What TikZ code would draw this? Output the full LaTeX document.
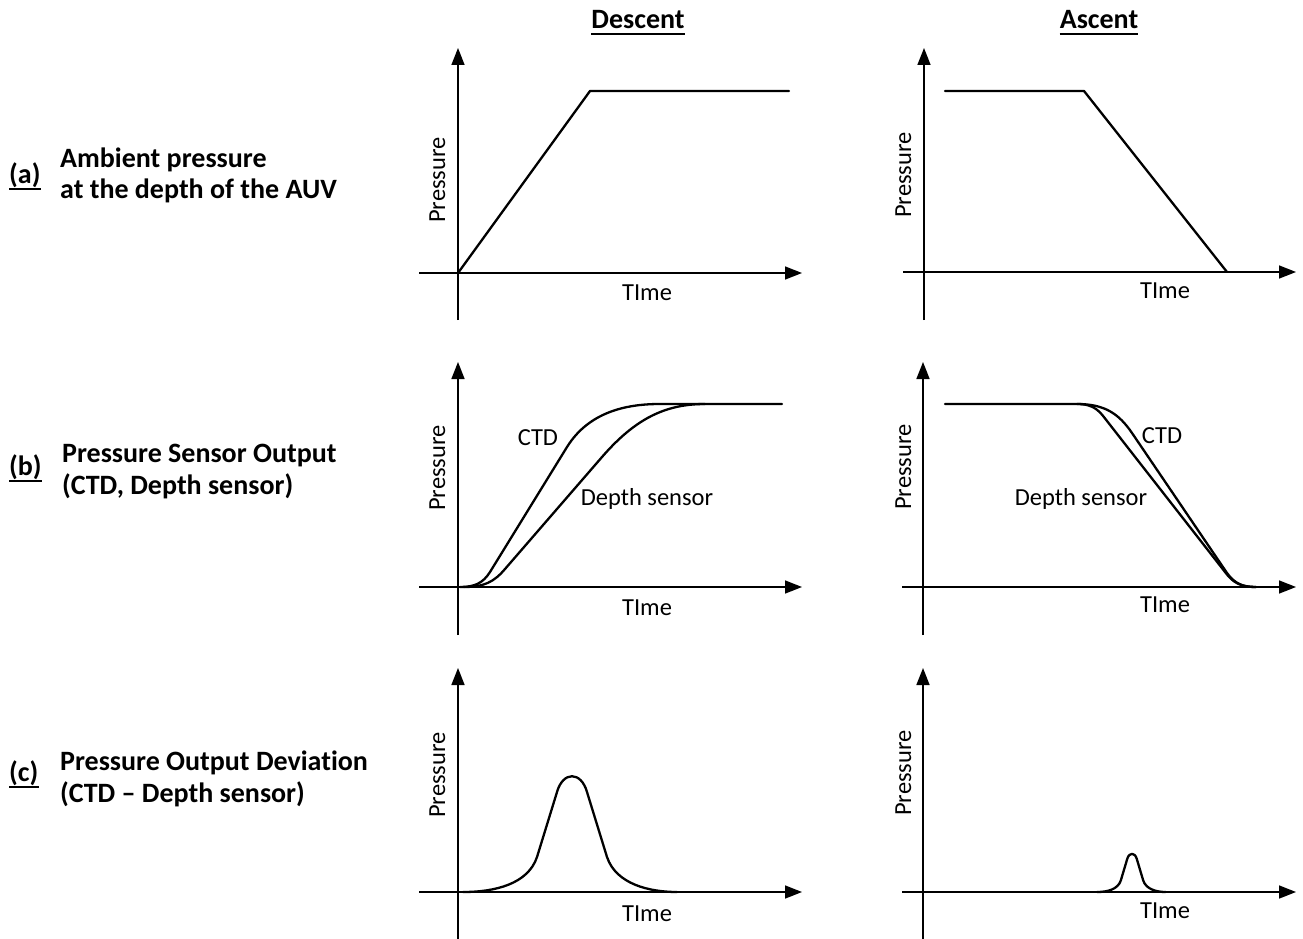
\documentclass[tikz,border=0pt]{standalone}
\usepackage{fontspec}
\setmainfont{Carlito}[Ligatures={TeX,NoCommon}]
\usetikzlibrary{arrows.meta}
\begin{document}
\begin{tikzpicture}[x=1pt,y=-1pt,
  axis/.style={line width=1.6pt,-{Triangle[length=17pt,width=13pt]}},
  curve/.style={line width=2.3pt,line join=round,line cap=round},
  lbl/.style={font=\fontsize{24.5}{29}\selectfont,inner sep=0pt,anchor=base},
  ylbl/.style={lbl,rotate=90},
  blbl/.style={font=\bfseries\fontsize{28}{33}\selectfont,inner sep=0pt,anchor=base west},
  ttl/.style={font=\bfseries\fontsize{28}{33}\selectfont,inner sep=0pt,anchor=base},
  uline/.style={line width=2.6pt},
  pics/bellcurve/.style={code={
    \draw[curve] (-109,0) .. controls (-77,0) and (-44,-8) .. (-35,-35) -- (-15,-100)
      .. controls (-9,-121) and (9,-121) .. (15,-100) -- (35,-35)
      .. controls (44,-8) and (77,0) .. (105,0);}}
]
\useasboundingbox (0,0) rectangle (1303,939);

% ---------- titles ----------
\node[ttl] (tdesc) at (638,29) {Descent};
\draw[uline] ([yshift=-5pt]tdesc.base west) -- ([yshift=-5pt]tdesc.base east);
\node[ttl] (tasc) at (1099,29) {Ascent};
\draw[uline] ([yshift=-5pt]tasc.base west) -- ([yshift=-5pt]tasc.base east);

% ---------- row labels ----------
\node[blbl] (la) at (9,183) {(a)};
\draw[uline] ([yshift=-6pt]la.base west) -- ([yshift=-6pt]la.base east);
\node[blbl] (la1) at (60,167) {Ambient pressure};
\node[blbl] (la2) at (60,198) {at the depth of the AUV};

\node[blbl] (lb) at (9,475) {(b)};
\draw[uline] ([yshift=-6pt]lb.base west) -- ([yshift=-6pt]lb.base east);
\node[blbl] (lb1) at (62,462) {Pressure Sensor Output};
\node[blbl] (lb2) at (62,494) {(CTD, Depth sensor)};

\node[blbl] (lc) at (9,781) {(c)};
\draw[uline] ([yshift=-6pt]lc.base west) -- ([yshift=-6pt]lc.base east);
\node[blbl] (lc1) at (60,770) {Pressure Output Deviation};
\node[blbl] (lc2) at (60,802) {(CTD – Depth sensor)};

% ---------- (a) descent ----------
\coordinate (ady0) at (458,320); \coordinate (ady1) at (458,48);
\coordinate (adx0) at (419,273); \coordinate (adx1) at (802,273);
\draw[axis] (ady0) -- (ady1);
\draw[axis] (adx0) -- (adx1);
\node[ylbl] (adp) at (445,180) {Pressure};
\node[lbl] (adt) at (647,300) {TIme};
\draw[curve] (458,273) -- (590,91) -- (789,91);

% ---------- (a) ascent ----------
\coordinate (aay0) at (924,320); \coordinate (aay1) at (924,48);
\coordinate (aax0) at (903,272); \coordinate (aax1) at (1296,272);
\draw[axis] (aay0) -- (aay1);
\draw[axis] (aax0) -- (aax1);
\node[ylbl] (aap) at (911,175) {Pressure};
\node[lbl] (aat) at (1165,298) {TIme};
\draw[curve] (945,91) -- (1084,91) -- (1227,272);

% ---------- (b) descent ----------
\coordinate (bdy0) at (458,635); \coordinate (bdy1) at (458,362);
\coordinate (bdx0) at (419,587); \coordinate (bdx1) at (802,587);
\draw[axis] (bdy0) -- (bdy1);
\draw[axis] (bdx0) -- (bdx1);
\node[ylbl] (bdp) at (445,468) {Pressure};
\node[lbl] (bdt) at (647,615) {TIme};
\draw[curve] (460,587) .. controls (475,587) and (483,583) .. (490,572) -- (567,447)
  .. controls (590,410) and (630,404) .. (660,404) -- (782,404);
\draw[curve] (464,587) .. controls (484,587) and (494,582) .. (505,569) -- (602,457)
  .. controls (635,419) and (665,404) .. (705,404);
\node[lbl] (bdctd) at (538,445) {CTD};
\node[lbl] (bdds) at (647,505) {Depth sensor};

% ---------- (b) ascent ----------
\coordinate (bay0) at (923,635); \coordinate (bay1) at (923,362);
\coordinate (bax0) at (902,587); \coordinate (bax1) at (1296,587);
\draw[axis] (bay0) -- (bay1);
\draw[axis] (bax0) -- (bax1);
\node[ylbl] (bap) at (911,467) {Pressure};
\node[lbl] (bat) at (1165,612) {TIme};
\draw[curve] (945,404) -- (1077,404) .. controls (1105,404) and (1119,414) .. (1132,433)
  -- (1227,573) .. controls (1235,584) and (1243,587) .. (1256,587);
\draw[curve] (1077,404) .. controls (1095,404) and (1100,412) .. (1107,421)
  -- (1225,572) .. controls (1233,583) and (1241,587) .. (1256,587);
\node[lbl] (bactd) at (1162,443) {CTD};
\node[lbl] (bads) at (1081,505) {Depth sensor};

% ---------- (c) descent ----------
\coordinate (cdy0) at (458,939); \coordinate (cdy1) at (458,668);
\coordinate (cdx0) at (419,892); \coordinate (cdx1) at (802,892);
\draw[axis] (cdy0) -- (cdy1);
\draw[axis] (cdx0) -- (cdx1);
\node[ylbl] (cdp) at (445,775) {Pressure};
\node[lbl] (cdt) at (647,921) {TIme};
\pic at (572,892) {bellcurve};

% ---------- (c) ascent ----------
\coordinate (cay0) at (923,939); \coordinate (cay1) at (923,668);
\coordinate (cax0) at (902,892); \coordinate (cax1) at (1296,892);
\draw[axis] (cay0) -- (cay1);
\draw[axis] (cax0) -- (cax1);
\node[ylbl] (cap) at (911,773) {Pressure};
\node[lbl] (cat) at (1165,918) {TIme};
\pic[xscale=0.32,yscale=0.33] at (1132,892) {bellcurve};
\end{tikzpicture}
\end{document}
